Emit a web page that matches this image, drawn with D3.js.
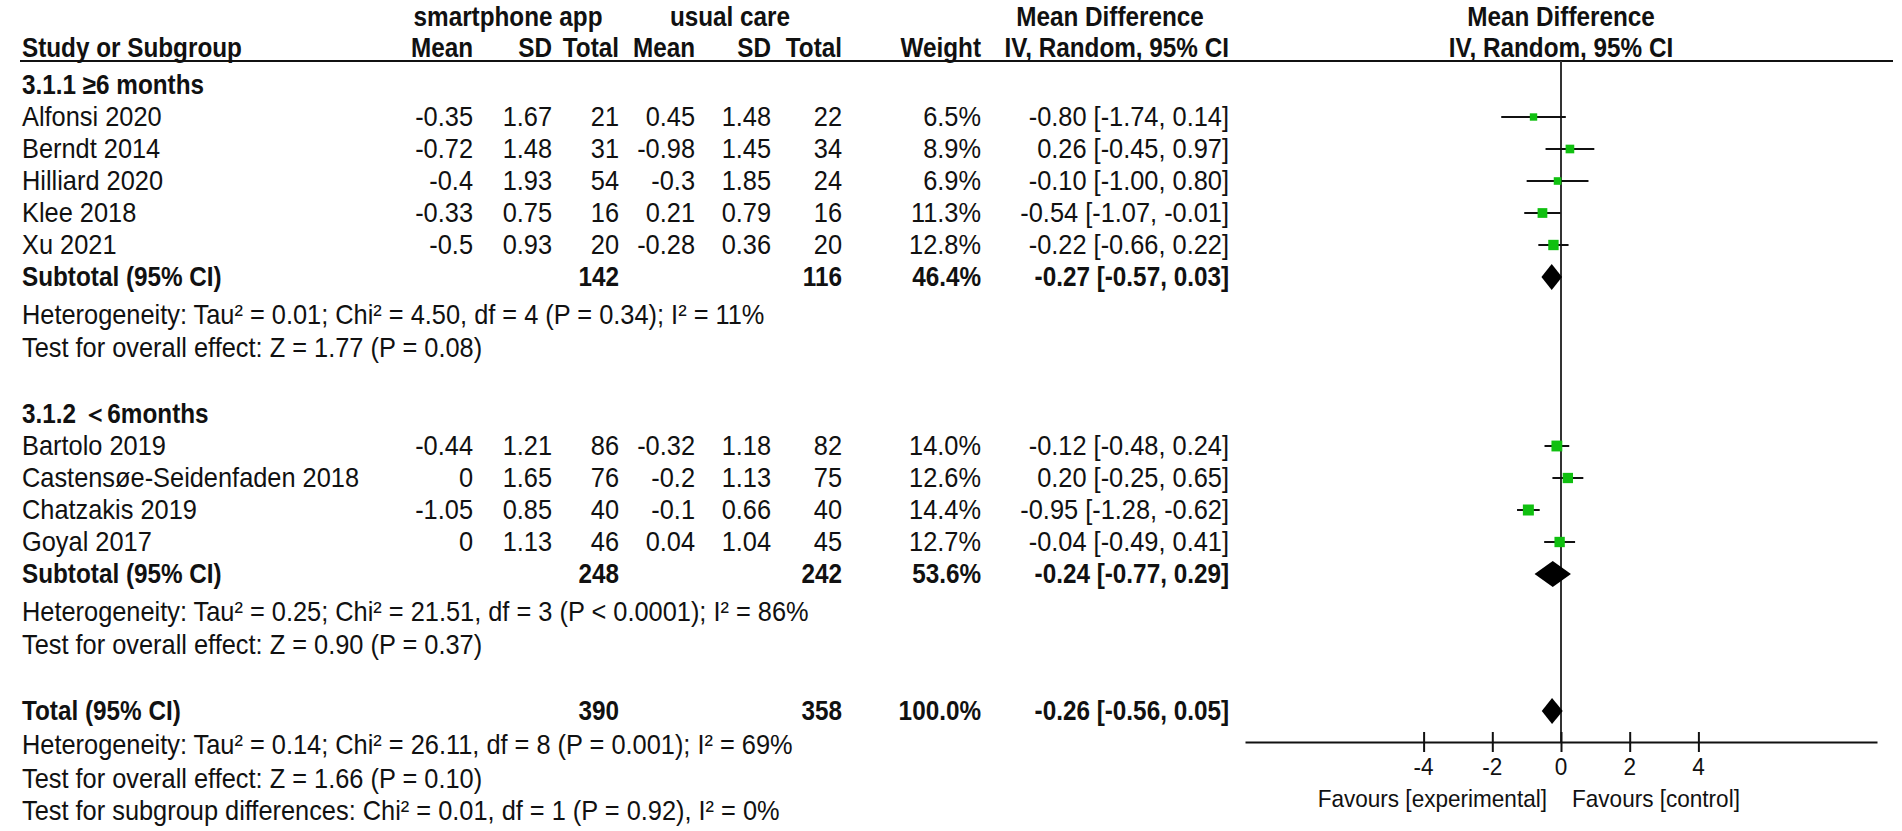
<!DOCTYPE html>
<html>
<head>
<meta charset="utf-8">
<script src="https://cdn.jsdelivr.net/npm/d3@7"></script>
<style>
  body { margin: 0; background: #fff; }
  svg text { font-family: "Liberation Sans", Arial, sans-serif; font-size: 27px; fill: #111; }
  svg text.b { font-weight: bold; }
  svg text.s { font-size: 24px; }
</style>
</head>
<body>
<svg id="chart" width="1902" height="831"></svg>
<script>
// study level data
const studyNames = ["Alfonsi 2020", "Berndt 2014", "Hilliard 2020", "Klee 2018", "Xu 2021",
  "Bartolo 2019", "Castensøe-Seidenfaden 2018", "Chatzakis 2019", "Goyal 2017"];
const studyGroup = [0, 0, 0, 0, 0, 1, 1, 1, 1];
const appMean = [-0.35, -0.72, -0.4, -0.33, -0.5, -0.44, 0, -1.05, 0];
const appSD = [1.67, 1.48, 1.93, 0.75, 0.93, 1.21, 1.65, 0.85, 1.13];
const appTotal = [21, 31, 54, 16, 20, 86, 76, 40, 46];
const careMean = [0.45, -0.98, -0.3, 0.21, -0.28, -0.32, -0.2, -0.1, 0.04];
const careSD = [1.48, 1.45, 1.85, 0.79, 0.36, 1.18, 1.13, 0.66, 1.04];
const careTotal = [22, 34, 24, 16, 20, 82, 75, 40, 45];
const weights = [6.5, 8.9, 6.9, 11.3, 12.8, 14.0, 12.6, 14.4, 12.7];
const md = [-0.80, 0.26, -0.10, -0.54, -0.22, -0.12, 0.20, -0.95, -0.04];
const ciLow = [-1.74, -0.45, -1.00, -1.07, -0.66, -0.48, -0.25, -1.28, -0.49];
const ciHigh = [0.14, 0.97, 0.80, -0.01, 0.22, 0.24, 0.65, -0.62, 0.41];

// subgroups
const groupTitles = ["3.1.1 ≥6 months", "3.1.2 ＜6months"];
const subAppTotal = [142, 248];
const subCareTotal = [116, 242];
const subWeight = [46.4, 53.6];
const subMd = [-0.27, -0.24];
const subLow = [-0.57, -0.77];
const subHigh = [0.03, 0.29];
const subHet = [
  "Heterogeneity: Tau² = 0.01; Chi² = 4.50, df = 4 (P = 0.34); I² = 11%",
  "Heterogeneity: Tau² = 0.25; Chi² = 21.51, df = 3 (P < 0.0001); I² = 86%"
];
const subTest = ["Test for overall effect: Z = 1.77 (P = 0.08)", "Test for overall effect: Z = 0.90 (P = 0.37)"];

// overall
const totalApp = 390, totalCare = 358, totalWeight = 100.0;
const totalMd = -0.26, totalLow = -0.56, totalHigh = 0.05;
const totalNotes = [
  "Heterogeneity: Tau² = 0.14; Chi² = 26.11, df = 8 (P = 0.001); I² = 69%",
  "Test for overall effect: Z = 1.66 (P = 0.10)",
  "Test for subgroup differences: Chi² = 0.01, df = 1 (P = 0.92), I² = 0%"
];

const axisTicks = [-4, -2, 0, 2, 4];
const favourLabels = ["Favours [experimental]", "Favours [control]"];

const svg = d3.select("#chart");
// text in the source is slightly condensed
const squeeze = 0.94, squeezeBold = 0.9;
const col = { name: 22, appMean: 473, appSD: 552, appTotal: 619, careMean: 695, careSD: 771, careTotal: 842, weight: 981, ci: 1229 };

const x = d3.scaleLinear().domain([-9.2, 9.2]).range([1245, 1877]);
const boxSize = d3.scaleSqrt().domain([0, 14.4]).range([0, 11]);
const fmt2 = d3.format(".2f");
const ciText = (m, lo, hi) => `${fmt2(m)} [${fmt2(lo)}, ${fmt2(hi)}]`.replace(/−/g, "-");

// build rows in drawing order, with the vertical step before each
const rows = [];
[0, 1].forEach(g => {
  rows.push({ kind: "heading", text: groupTitles[g], step: g === 0 ? 0 : 66 });
  studyNames.forEach((n, i) => {
    if (studyGroup[i] === g) rows.push({ kind: "study", i, step: 32 });
  });
  rows.push({ kind: "subtotal", g, step: 32 });
  rows.push({ kind: "note", text: subHet[g], step: 38 });
  rows.push({ kind: "note", text: subTest[g], step: 33 });
});
rows.push({ kind: "total", step: 66 });
totalNotes.forEach((t, k) => rows.push({ kind: "note", text: t, step: k === 2 ? 32 : 34 }));

let yy = 85;
rows.forEach(r => { yy += r.step; r.y = yy; });

function txt(xp, yp, s, anchor, bold, cls) {
  svg.append("text")
    .attr("transform", `translate(${xp},${yp}) scale(${bold ? squeezeBold : squeeze},1)`)
    .attr("dy", "0.35em")
    .attr("text-anchor", anchor || "start")
    .attr("class", [bold ? "b" : "", cls || ""].join(" ").trim() || null)
    .text(s);
}

// headers
txt(508, 17, "smartphone app", "middle", true);
txt(730, 17, "usual care", "middle", true);
txt(1110, 17, "Mean Difference", "middle", true);
txt(x(0), 17, "Mean Difference", "middle", true);
txt(col.name, 48, "Study or Subgroup", "start", true);
txt(col.appMean, 48, "Mean", "end", true);
txt(col.appSD, 48, "SD", "end", true);
txt(col.appTotal, 48, "Total", "end", true);
txt(col.careMean, 48, "Mean", "end", true);
txt(col.careSD, 48, "SD", "end", true);
txt(col.careTotal, 48, "Total", "end", true);
txt(col.weight, 48, "Weight", "end", true);
txt(col.ci, 48, "IV, Random, 95% CI", "end", true);
txt(x(0), 48, "IV, Random, 95% CI", "middle", true);

svg.append("line").attr("x1", 20).attr("x2", 1893).attr("y1", 61).attr("y2", 61)
  .attr("stroke", "#111").attr("stroke-width", 2);

// vertical line of no effect and axis
const axisY = 742;
svg.append("line").attr("x1", x(0)).attr("x2", x(0)).attr("y1", 61).attr("y2", axisY)
  .attr("stroke", "#333").attr("stroke-width", 2);

const axis = d3.axisBottom(x).tickValues(axisTicks).tickFormat(d => String(d)).tickSize(0).tickPadding(0);
const ag = svg.append("g").attr("transform", `translate(0,${axisY})`).call(axis);
ag.select(".domain").attr("stroke", "#111").attr("stroke-width", 2);
ag.selectAll(".tick line").attr("y1", -10).attr("y2", 10).attr("stroke", "#111").attr("stroke-width", 2);
ag.selectAll(".tick text").remove();
ag.attr("font-size", null).attr("font-family", null);
axisTicks.forEach(t => txt(x(t), axisY + 25, String(t), "middle", false, "s"));

txt(x(0) - 14, 799, favourLabels[0], "end", false, "s");
txt(x(0) + 11, 799, favourLabels[1], "start", false, "s");

function diamond(y, m, lo, hi) {
  const h = 13;
  svg.append("path")
    .attr("d", `M${x(lo)},${y} L${x(m)},${y - h} L${x(hi)},${y} L${x(m)},${y + h} Z`)
    .attr("fill", "#000");
}

rows.forEach(r => {
  if (r.kind === "heading") {
    txt(col.name, r.y, r.text, "start", true);
  } else if (r.kind === "note") {
    txt(col.name, r.y, r.text, "start", false);
  } else if (r.kind === "study") {
    const i = r.i;
    txt(col.name, r.y, studyNames[i]);
    txt(col.appMean, r.y, String(appMean[i]), "end");
    txt(col.appSD, r.y, String(appSD[i]), "end");
    txt(col.appTotal, r.y, String(appTotal[i]), "end");
    txt(col.careMean, r.y, String(careMean[i]), "end");
    txt(col.careSD, r.y, String(careSD[i]), "end");
    txt(col.careTotal, r.y, String(careTotal[i]), "end");
    txt(col.weight, r.y, weights[i].toFixed(1) + "%", "end");
    txt(col.ci, r.y, ciText(md[i], ciLow[i], ciHigh[i]), "end");
    svg.append("line").attr("x1", x(ciLow[i])).attr("x2", x(ciHigh[i]))
      .attr("y1", r.y).attr("y2", r.y).attr("stroke", "#111").attr("stroke-width", 2);
    const s = boxSize(weights[i]);
    svg.append("rect").attr("x", x(md[i]) - s / 2).attr("y", r.y - s / 2)
      .attr("width", s).attr("height", s).attr("fill", "#10c010");
  } else if (r.kind === "subtotal") {
    const g = r.g;
    txt(col.name, r.y, "Subtotal (95% CI)", "start", true);
    txt(col.appTotal, r.y, String(subAppTotal[g]), "end", true);
    txt(col.careTotal, r.y, String(subCareTotal[g]), "end", true);
    txt(col.weight, r.y, subWeight[g].toFixed(1) + "%", "end", true);
    txt(col.ci, r.y, ciText(subMd[g], subLow[g], subHigh[g]), "end", true);
    diamond(r.y, subMd[g], subLow[g], subHigh[g]);
  } else if (r.kind === "total") {
    txt(col.name, r.y, "Total (95% CI)", "start", true);
    txt(col.appTotal, r.y, String(totalApp), "end", true);
    txt(col.careTotal, r.y, String(totalCare), "end", true);
    txt(col.weight, r.y, totalWeight.toFixed(1) + "%", "end", true);
    txt(col.ci, r.y, ciText(totalMd, totalLow, totalHigh), "end", true);
    diamond(r.y, totalMd, totalLow, totalHigh);
  }
});
</script>
</body>
</html>
